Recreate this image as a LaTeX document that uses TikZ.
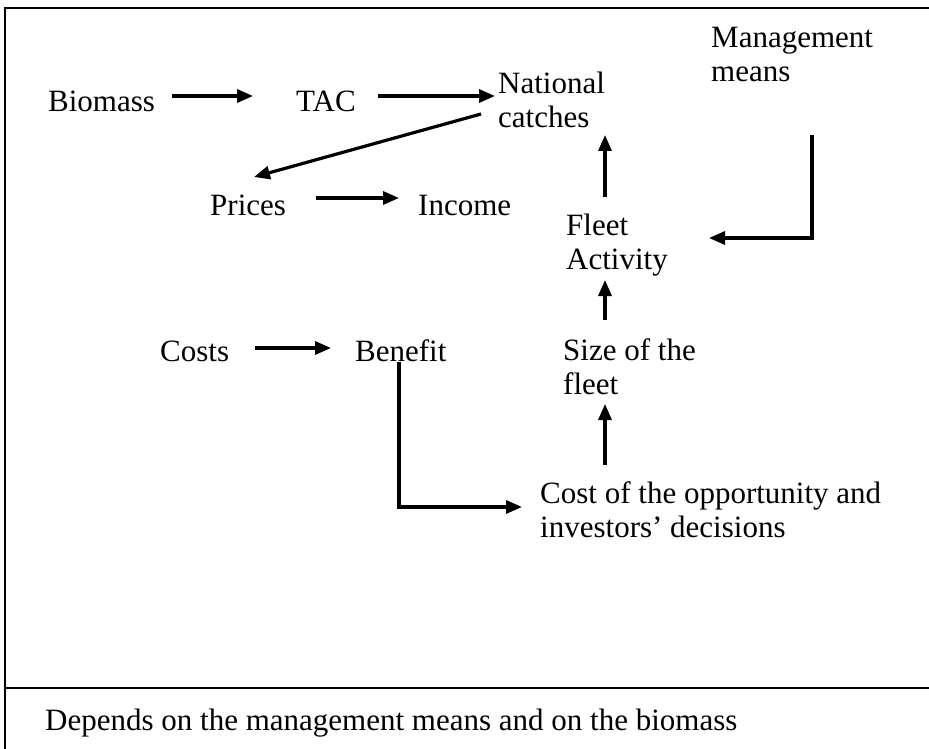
\documentclass[tikz,border=0pt]{standalone}
\usepackage{fontspec}
\setmainfont{Liberation Serif}
\usetikzlibrary{arrows.meta}
\begin{document}
\begin{tikzpicture}[x=1pt,y=-1pt,
  lbl/.style={inner sep=0pt, anchor=base west, align=left, font=\fontsize{31}{34}\selectfont},
  arr/.style={line width=3.2pt, -{Triangle[length=16pt,width=13pt]}},
  frame/.style={line width=2.5pt}]
\useasboundingbox (0,0) rectangle (929,749);
% frame
\draw[frame] (4,8) -- (929,8);
\draw[frame] (5,8) -- (5,749);
\draw[frame] (4,688) -- (929,688);
% labels (multi-line nodes: base = baseline of last line)
\node[lbl] (biomass) at (48,112) {Biomass};
\node[lbl] (tac) at (296,112) {TAC};
\node[lbl] (national) at (498,128) {National\\catches};
\node[lbl] (mgmt) at (711,82) {Management\\means};
\node[lbl] (prices) at (210,215) {Prices};
\node[lbl] (income) at (418,215) {Income};
\node[lbl] (fleet) at (566,269) {Fleet\\Activity};
\node[lbl] (costs) at (160,361) {Costs};
\node[lbl] (benefit) at (355,361) {Benefit};
\node[lbl] (size) at (563,394) {Size of the\\fleet};
\node[lbl] (cost) at (540,537) {Cost of the opportunity and\\investors’ decisions};
\node[lbl] (depends) at (45,730) {Depends on the management means and on the biomass};
% arrow end points
\coordinate (a1s) at (172,96);  \coordinate (a1e) at (253,96);
\coordinate (a2s) at (378,96);  \coordinate (a2e) at (495,96);
\coordinate (a3s) at (481,114); \coordinate (a3e) at (254,177);
\coordinate (a4s) at (316,198); \coordinate (a4e) at (399,198);
\coordinate (a5s) at (605,197); \coordinate (a5e) at (605,135);
\coordinate (a6s) at (812,135); \coordinate (a6c) at (812,238); \coordinate (a6e) at (709,238);
\coordinate (a7s) at (605,320); \coordinate (a7e) at (605,280);
\coordinate (a8s) at (255,348); \coordinate (a8e) at (331,348);
\coordinate (a9s) at (605,465); \coordinate (a9e) at (605,404);
\coordinate (a10s) at (399,362); \coordinate (a10c) at (399,507); \coordinate (a10e) at (522,507);
% connectors
\draw[arr] (a1s) -- (a1e);
\draw[arr] (a2s) -- (a2e);
\draw[arr] (a3s) -- (a3e);
\draw[arr] (a4s) -- (a4e);
\draw[arr] (a5s) -- (a5e);
\draw[arr] (a6s) -- (a6c) -- (a6e);
\draw[arr] (a7s) -- (a7e);
\draw[arr] (a8s) -- (a8e);
\draw[arr] (a9s) -- (a9e);
\draw[arr] (a10s) -- (a10c) -- (a10e);
\end{tikzpicture}
\end{document}
